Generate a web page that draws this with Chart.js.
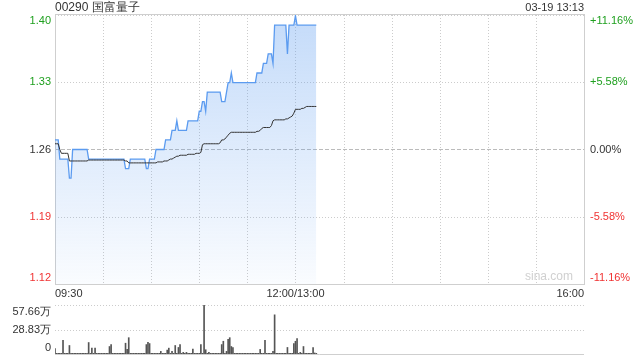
<!DOCTYPE html>
<html>
<head>
<meta charset="utf-8">
<script src="https://cdn.jsdelivr.net/npm/chart.js@4.4.0/dist/chart.umd.min.js"></script>
<style>
  html, body { margin: 0; padding: 0; background: #fff; }
  #wrap { position: relative; width: 640px; height: 360px; }
  #priceChart { position: absolute; left: 0; top: 0; }
  #volChart { position: absolute; left: 0; top: 300px; }
</style>
</head>
<body>
<div id="wrap">
  <canvas id="priceChart" width="640" height="300"></canvas>
  <canvas id="volChart" width="640" height="60"></canvas>
</div>
<script>
// header texts
const stockTitle = '00290 国富量子';
const stamp = '03-19 13:13';

// axis setup
const prevClose = 1.26;
const pctSteps = [11.16, 5.58, 0, -5.58, -11.16];
const priceTickLabels = ['1.40', '1.33', '1.26', '1.19', '1.12'];
const pctTickLabels = ['+11.16%', '+5.58%', '0.00%', '-5.58%', '-11.16%'];
const timeLabels = ['09:30', '12:00/13:00', '16:00'];
const timeLabelMinutes = [0, 150, 330];
const totalMinutes = 330;
const volTicks = [57.66, 28.83, 0];
const volTickLabels = ['57.66万', '28.83万', '0'];

// one value per minute from 09:30
const prices = [
  1.27, 1.27, 1.27, 1.25, 1.25, 1.25, 1.25, 1.25, 1.25, 1.23,
  1.23, 1.26, 1.26, 1.26, 1.26, 1.26, 1.26, 1.26, 1.26, 1.26,
  1.26, 1.25, 1.25, 1.25, 1.25, 1.25, 1.25, 1.25, 1.25, 1.25,
  1.25, 1.25, 1.25, 1.25, 1.25, 1.25, 1.25, 1.25, 1.25, 1.25,
  1.25, 1.25, 1.25, 1.25, 1.24, 1.24, 1.24, 1.25, 1.25, 1.25,
  1.25, 1.25, 1.25, 1.25, 1.25, 1.25, 1.25, 1.24, 1.24, 1.25,
  1.25, 1.25, 1.25, 1.26, 1.26, 1.26, 1.26, 1.26, 1.26, 1.27,
  1.27, 1.27, 1.27, 1.28, 1.28, 1.28, 1.29, 1.28, 1.28, 1.28,
  1.28, 1.28, 1.28, 1.29, 1.29, 1.29, 1.29, 1.29, 1.29, 1.29,
  1.30, 1.30, 1.31, 1.31, 1.30, 1.32, 1.32, 1.32, 1.32, 1.32,
  1.32, 1.32, 1.32, 1.32, 1.31, 1.31, 1.31, 1.32, 1.33, 1.33,
  1.34, 1.33, 1.33, 1.33, 1.33, 1.33, 1.33, 1.33, 1.33, 1.33,
  1.33, 1.33, 1.33, 1.33, 1.33, 1.33, 1.34, 1.34, 1.34, 1.34,
  1.35, 1.35, 1.35, 1.36, 1.36, 1.36, 1.35, 1.39, 1.39, 1.39,
  1.39, 1.39, 1.39, 1.39, 1.39, 1.36, 1.39, 1.39, 1.39, 1.39,
  1.40, 1.39, 1.39, 1.39, 1.39, 1.39, 1.39, 1.39, 1.39, 1.39,
  1.39, 1.39, 1.39, 1.39
];

const avgPrices = [
  1.266, 1.266, 1.266, 1.260, 1.256, 1.256, 1.256, 1.256, 1.256, 1.248,
  1.248, 1.248, 1.248, 1.248, 1.248, 1.248, 1.248, 1.248, 1.248, 1.248,
  1.248, 1.249, 1.249, 1.249, 1.249, 1.249, 1.249, 1.249, 1.249, 1.249,
  1.249, 1.249, 1.249, 1.249, 1.249, 1.249, 1.249, 1.249, 1.249, 1.249,
  1.249, 1.249, 1.249, 1.249, 1.248, 1.248, 1.246, 1.246, 1.246, 1.246,
  1.246, 1.246, 1.246, 1.246, 1.246, 1.246, 1.246, 1.246, 1.246, 1.246,
  1.246, 1.246, 1.246, 1.246, 1.247, 1.247, 1.247, 1.247, 1.248, 1.248,
  1.248, 1.249, 1.250, 1.250, 1.251, 1.252, 1.253, 1.253, 1.254, 1.254,
  1.254, 1.254, 1.254, 1.255, 1.255, 1.255, 1.255, 1.255, 1.256, 1.256,
  1.256, 1.257, 1.265, 1.266, 1.266, 1.266, 1.266, 1.266, 1.266, 1.266,
  1.266, 1.266, 1.266, 1.267, 1.270, 1.270, 1.271, 1.273, 1.275, 1.277,
  1.278, 1.278, 1.278, 1.278, 1.278, 1.278, 1.278, 1.278, 1.278, 1.278,
  1.278, 1.278, 1.278, 1.278, 1.278, 1.278, 1.279, 1.279, 1.280, 1.282,
  1.283, 1.283, 1.283, 1.283, 1.283, 1.285, 1.290, 1.291, 1.291, 1.291,
  1.291, 1.291, 1.291, 1.291, 1.292, 1.292, 1.293, 1.294, 1.295, 1.298,
  1.302, 1.302, 1.302, 1.302, 1.303, 1.303, 1.304, 1.305, 1.305, 1.305,
  1.305, 1.305, 1.305, 1.305
];

// volume in 万 shares
const volumes = [
  6.5, 0.8, 0.8, 0.8, 0.8, 16.1, 0.8, 0.8, 0.8, 10.0,
  0.8, 0.8, 0.8, 0.8, 0.8, 0.8, 0.8, 0.8, 0.8, 0.8,
  0.8, 13.5, 0.8, 6.9, 0.8, 6.9, 0.8, 0.8, 0.8, 0.8,
  0.8, 0.8, 0.8, 0.8, 8.8, 11.1, 0.8, 0.8, 0.8, 0.8,
  0.8, 0.8, 0.8, 0.8, 12.7, 5.4, 19.2, 0.8, 0.8, 0.8,
  0.8, 0.8, 0.8, 0.8, 0.8, 0.8, 0.8, 11.1, 13.8, 12.3,
  0.8, 0.8, 0.8, 0.8, 0.8, 0.8, 3.1, 0.8, 0.8, 0.8,
  4.6, 6.9, 0.8, 3.1, 0.8, 10.0, 0.8, 7.7, 11.1, 0.8,
  1.9, 0.8, 1.9, 0.8, 0.8, 0.8, 5.8, 0.8, 0.8, 0.8,
  0.8, 11.1, 0.8, 57.66, 5.0, 0.8, 1.9, 0.8, 0.8, 0.8,
  0.8, 0.8, 0.8, 0.8, 11.1, 15.0, 0.8, 3.1, 17.3, 19.2,
  8.8, 7.7, 0.8, 0.8, 0.8, 0.8, 0.8, 0.8, 0.8, 0.8,
  0.8, 0.8, 0.8, 0.8, 0.8, 0.8, 0.8, 0.8, 5.4, 0.8,
  0.8, 16.1, 0.8, 0.8, 0.8, 0.8, 3.1, 46.1, 0.8, 0.8,
  0.8, 0.8, 0.8, 0.8, 0.8, 7.7, 0.8, 0.8, 0.8, 12.3,
  15.0, 18.1, 0.8, 1.9, 0.8, 8.8, 0.8, 0.8, 0.8, 0.8,
  0.8, 7.7, 1.2, 0.8
];

const FONT = '"Liberation Sans", Arial, sans-serif';
const GREEN = '#1fa01f';
const RED = '#f03333';
const GRID = '#cccccc';

function pctColor(p) {
  if (p > 0) return GREEN;
  if (p < 0) return RED;
  return '#333333';
}

function hLine(ctx, area, y, dash, color) {
  ctx.save();
  ctx.strokeStyle = color;
  ctx.lineWidth = 1;
  ctx.setLineDash(dash);
  ctx.beginPath();
  ctx.moveTo(area.left, Math.round(y) + 0.5);
  ctx.lineTo(area.right, Math.round(y) + 0.5);
  ctx.stroke();
  ctx.restore();
}

function vLine(ctx, area, x, dash, color) {
  ctx.save();
  ctx.strokeStyle = color;
  ctx.lineWidth = 1;
  ctx.setLineDash(dash);
  ctx.beginPath();
  ctx.moveTo(Math.round(x) + 0.5, area.top);
  ctx.lineTo(Math.round(x) + 0.5, area.bottom);
  ctx.stroke();
  ctx.restore();
}

const priceFrame = {
  id: 'priceFrame',
  beforeDatasetsDraw(chart) {
    const ctx = chart.ctx, area = chart.chartArea;
    const xs = chart.scales.x, ys = chart.scales.y;
    for (let m = 30; m < totalMinutes; m += 30) {
      vLine(ctx, area, xs.getPixelForValue(m), [1, 2], GRID);
    }
    pctSteps.forEach(p => {
      const y = ys.getPixelForValue(prevClose * (1 + p / 100));
      if (p === 0) hLine(ctx, area, y, [4, 2], '#bbbbbb');
      else hLine(ctx, area, y, [1, 2], GRID);
    });
    ctx.save();
    ctx.strokeStyle = '#cfcfcf';
    ctx.lineWidth = 1;
    ctx.strokeRect(Math.round(area.left) + 0.5, Math.round(area.top) - 0.5,
      Math.round(area.right - area.left), Math.round(area.bottom - area.top) + 1);
    ctx.restore();
  },
  afterDraw(chart) {
    const ctx = chart.ctx, area = chart.chartArea;
    const xs = chart.scales.x, ys = chart.scales.y;
    ctx.save();
    ctx.textBaseline = 'middle';
    ctx.font = '12px ' + FONT;
    ctx.fillStyle = '#333';
    ctx.textAlign = 'left';
    ctx.fillText(stockTitle, area.left, 8);
    ctx.font = '11px ' + FONT;
    ctx.textAlign = 'right';
    ctx.fillText(stamp, area.right, 8);

    pctSteps.forEach((p, i) => {
      let y = ys.getPixelForValue(prevClose * (1 + p / 100));
      y = Math.min(Math.max(y, area.top + 6), area.bottom - 6);
      ctx.fillStyle = pctColor(p);
      ctx.textAlign = 'right';
      ctx.fillText(priceTickLabels[i], area.left - 4, y);
      ctx.textAlign = 'left';
      ctx.fillText(pctTickLabels[i], area.right + 6, y);
    });

    ctx.fillStyle = '#333';
    timeLabels.forEach((t, i) => {
      const m = timeLabelMinutes[i];
      ctx.textAlign = m === 0 ? 'left' : (m === totalMinutes ? 'right' : 'center');
      ctx.fillText(t, xs.getPixelForValue(m), area.bottom + 10);
    });

    ctx.font = '12px ' + FONT;
    ctx.fillStyle = '#d0d0d0';
    ctx.textAlign = 'right';
    ctx.fillText('sina.com', area.right - 11, area.bottom - 7);
    ctx.restore();
  }
};

const volFrame = {
  id: 'volFrame',
  beforeDatasetsDraw(chart) {
    const ctx = chart.ctx, area = chart.chartArea;
    const ys = chart.scales.y;
    volTicks.forEach(v => {
      const y = ys.getPixelForValue(v);
      if (v === 0) hLine(ctx, area, y, [], '#cfcfcf');
      else hLine(ctx, area, y, [1, 2], GRID);
    });
  },
  afterDraw(chart) {
    const ctx = chart.ctx, area = chart.chartArea;
    const ys = chart.scales.y;
    ctx.save();
    ctx.font = '11px ' + FONT;
    ctx.fillStyle = '#333';
    ctx.textAlign = 'right';
    ctx.textBaseline = 'middle';
    volTicks.forEach((v, i) => {
      let y = ys.getPixelForValue(v);
      y = Math.min(Math.max(y, area.top + 7), area.bottom - 6);
      ctx.fillText(volTickLabels[i], area.left - 4, y);
    });
    ctx.restore();
  }
};

const priceChart = new Chart(document.getElementById('priceChart'), {
  type: 'line',
  data: {
    datasets: [{
      label: '均价',
      data: avgPrices.map((v, i) => ({ x: i, y: v })),
      borderColor: '#333333',
      borderWidth: 1,
      pointRadius: 0,
      fill: false
    }, {
      label: '价格',
      data: prices.map((v, i) => ({ x: i, y: v })),
      borderColor: '#5b9bf0',
      borderWidth: 1.3,
      pointRadius: 0,
      fill: 'start',
      backgroundColor: function (c) {
        const area = c.chart.chartArea;
        if (!area) return 'rgba(91,155,240,0.2)';
        const g = c.chart.ctx.createLinearGradient(0, area.top, 0, area.bottom);
        g.addColorStop(0, 'rgba(91,155,240,0.36)');
        g.addColorStop(1, 'rgba(91,155,240,0.03)');
        return g;
      }
    }]
  },
  options: {
    responsive: false,
    animation: false,
    devicePixelRatio: 1,
    layout: { padding: { left: 55, right: 56, top: 15, bottom: 16 } },
    plugins: { legend: { display: false }, tooltip: { enabled: false } },
    scales: {
      x: { type: 'linear', min: 0, max: totalMinutes, display: false },
      y: { min: prevClose * (1 - 0.1116), max: prevClose * (1 + 0.1116), display: false }
    }
  },
  plugins: [priceFrame]
});

const volChart = new Chart(document.getElementById('volChart'), {
  type: 'bar',
  data: {
    datasets: [{
      label: '成交量',
      data: volumes.map((v, i) => ({ x: i, y: v })),
      backgroundColor: '#555555',
      borderWidth: 0,
      barThickness: 1
    }]
  },
  options: {
    responsive: false,
    animation: false,
    devicePixelRatio: 1,
    layout: { padding: { left: 55, right: 56, top: 5, bottom: 6 } },
    plugins: { legend: { display: false }, tooltip: { enabled: false } },
    scales: {
      x: { type: 'linear', min: 0, max: totalMinutes, offset: false, display: false },
      y: { min: 0, max: volTicks[0], display: false }
    }
  },
  plugins: [volFrame]
});
</script>
</body>
</html>
